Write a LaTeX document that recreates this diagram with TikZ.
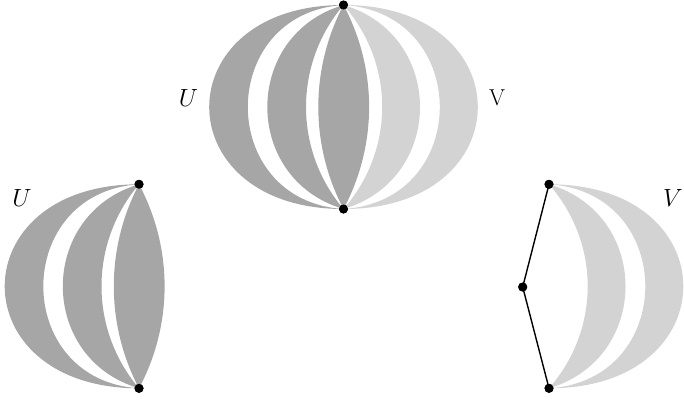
\documentclass[tikz,border=0pt]{standalone}
\usetikzlibrary{calc}
\definecolor{darkfill}{RGB}{166,166,166}
\definecolor{lightfill}{RGB}{211,211,211}
\tikzset{
  dot/.style={circle,fill=black,inner sep=0pt,minimum size=9pt},
  lbl/.style={inner sep=0pt,font=\fontsize{23}{27}\selectfont},
  segline/.style={line width=1.4pt,black},
}
% lune between curve (#3 offset, #4 tip drop) and curve (#5, #6) joining #1 (top) and #2 (bottom)
\newcommand\mylune[7]{%
  \fill[#7] (#1.center) .. controls ($(#1.center)+({#3*4/3},#4)$) and ($(#2.center)+({#3*4/3},-#4)$) .. (#2.center)
    .. controls ($(#2.center)+({#5*4/3},-#6)$) and ($(#1.center)+({#5*4/3},#6)$) .. (#1.center) -- cycle;}
\begin{document}
\begin{tikzpicture}[x=1pt,y=-1pt]
\useasboundingbox (0,0) rectangle (684,402);
% node positions
\node[dot] (t1) at (343.5,5) {};
\node[dot] (b1) at (343.5,209) {};
\node[dot] (t2) at (139,184.3) {};
\node[dot] (b2) at (139,388.3) {};
\node[dot] (t3) at (549,184.3) {};
\node[dot] (b3) at (549,388.3) {};
\node[dot] (m3) at (522.7,287) {};
% top figure
\mylune{t1}{b1}{-134.3}{0}{-95.7}{8}{darkfill}
\mylune{t1}{b1}{-76.2}{30}{-37.5}{59}{darkfill}
\mylune{t1}{b1}{-25.2}{64}{25.6}{64}{darkfill}
\mylune{t1}{b1}{38.7}{59}{76.5}{30}{lightfill}
\mylune{t1}{b1}{96.3}{8}{134.3}{0}{lightfill}
% bottom left
\mylune{t2}{b2}{-134.3}{0}{-95.7}{8}{darkfill}
\mylune{t2}{b2}{-76.2}{30}{-37.5}{59}{darkfill}
\mylune{t2}{b2}{-25.2}{64}{25.6}{64}{darkfill}
% bottom right
\mylune{t3}{b3}{38.7}{59}{76.5}{30}{lightfill}
\mylune{t3}{b3}{96.3}{8}{134.3}{0}{lightfill}
\draw[segline] (t3.center) -- (m3.center) -- (b3.center);
% dots on top
\foreach \n in {t1,b1,t2,b2,t3,b3,m3} \fill (\n) circle (4.5pt);
% labels
\node[lbl] (lu1) at (188.5,97.5) {$U$};
\node[lbl] (lv1) at (497,97.7) {V};
\node[lbl] (lu2) at (22,198.3) {$U$};
\node[lbl] (lv2) at (673,198.3) {$V$};
\end{tikzpicture}
\end{document}
